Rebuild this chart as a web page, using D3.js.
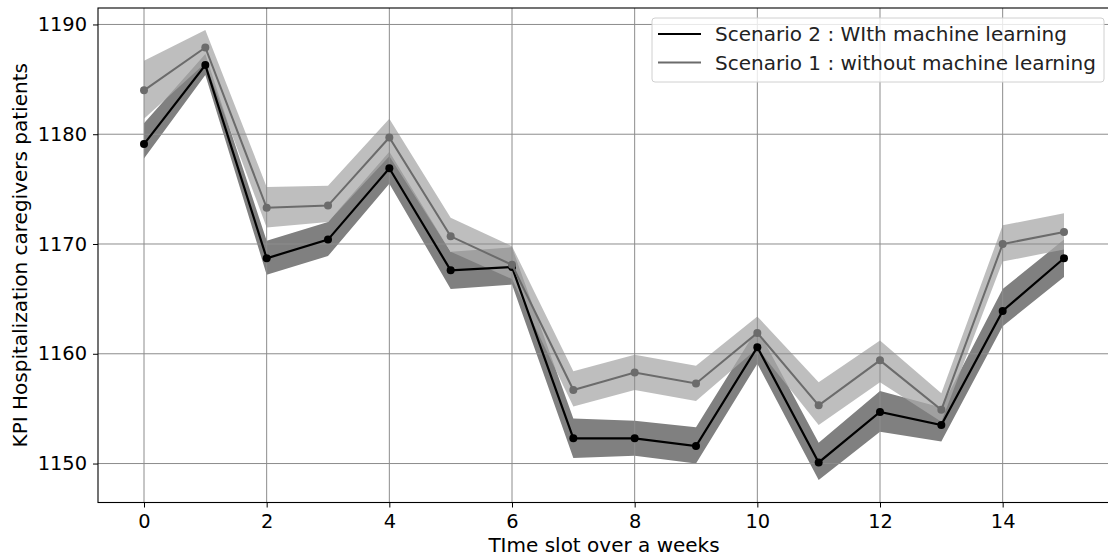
<!DOCTYPE html>
<html>
<head>
<meta charset="utf-8">
<script src="https://cdn.jsdelivr.net/npm/d3@7"></script>
<style>
  html, body { margin: 0; padding: 0; background: #fff; }
  svg { display: block; font-family: 'DejaVu Sans', sans-serif; }
  .axis path, .axis line { stroke: #000; }
  .axis text { fill: #000; font-size: 19.4px; font-family: 'DejaVu Sans', sans-serif; }
</style>
</head>
<body>
<div id="chart"></div>
<script>
const slots = [0, 1, 2, 3, 4, 5, 6, 7, 8, 9, 10, 11, 12, 13, 14, 15];

// scenario 2 : with machine learning
const withMean  = [1179.1, 1186.3, 1168.7, 1170.4, 1176.9, 1167.6, 1167.9, 1152.3, 1152.3, 1151.6, 1160.6, 1150.1, 1154.7, 1153.5, 1163.9, 1168.7];
const withLow   = [1177.8, 1185.4, 1167.2, 1168.9, 1175.5, 1165.9, 1166.3, 1150.5, 1150.7, 1150.0, 1159.1, 1148.5, 1152.9, 1152.0, 1162.5, 1167.0];
const withHigh  = [1181.0, 1187.3, 1170.3, 1172.0, 1178.4, 1169.3, 1169.7, 1154.1, 1153.9, 1153.3, 1162.3, 1151.9, 1156.6, 1155.1, 1165.9, 1170.4];

// scenario 1 : without machine learning
const withoutMean = [1184.0, 1187.9, 1173.3, 1173.5, 1179.7, 1170.7, 1168.1, 1156.7, 1158.3, 1157.3, 1161.9, 1155.3, 1159.4, 1154.9, 1170.0, 1171.1];
const withoutLow  = [1181.4, 1186.5, 1171.5, 1172.0, 1178.0, 1169.3, 1166.8, 1155.2, 1156.7, 1155.7, 1160.5, 1153.5, 1157.4, 1153.8, 1168.4, 1169.5];
const withoutHigh = [1186.7, 1189.5, 1175.2, 1175.3, 1181.4, 1172.4, 1169.8, 1158.4, 1159.9, 1158.9, 1163.4, 1157.4, 1161.2, 1156.4, 1171.7, 1172.8];

const xTicks = [0, 2, 4, 6, 8, 10, 12, 14];
const yTicks = [1150, 1160, 1170, 1180, 1190];
const legendLabels = ['Scenario 2 : WIth machine learning', 'Scenario 1 : without machine learning'];

const translation = function(x, y) {
  return 'translate(' + x + ',' + y + ')';
};

const margin = { top: 8, right: -2, bottom: 53.5, left: 98 };
const W = 1108, H = 556;
const width = W - margin.left - margin.right;
const height = H - margin.top - margin.bottom;

const svg = d3.select('#chart').append('svg')
  .attr('width', W)
  .attr('height', H);

const xScale = d3.scaleLinear()
  .domain([-0.75, 15.75])
  .range([0, width]);

const yScale = d3.scaleLinear()
  .domain([1146.45, 1191.5])
  .range([height, 0]);

const g = svg.append('g')
  .attr('transform', translation(margin.left, margin.top));

const rows = slots.map(function(s, i) {
  return {
    x: s,
    m2: withMean[i], lo2: withLow[i], hi2: withHigh[i],
    m1: withoutMean[i], lo1: withoutLow[i], hi1: withoutHigh[i]
  };
});

// BANDS
const band = function(lo, hi) {
  return d3.area()
    .x(function(d) { return xScale(d.x); })
    .y0(function(d) { return yScale(d[lo]); })
    .y1(function(d) { return yScale(d[hi]); });
};

g.append('path')
  .datum(rows)
  .attr('d', band('lo2', 'hi2'))
  .attr('fill', '#808080');

g.append('path')
  .datum(rows)
  .attr('d', band('lo1', 'hi1'))
  .attr('fill', '#aaaaaa')
  .attr('fill-opacity', 0.76);

// GRID
g.append('g')
  .selectAll('line.vgrid')
  .data(xTicks)
  .enter().append('line')
  .attr('x1', function(d) { return xScale(d); })
  .attr('x2', function(d) { return xScale(d); })
  .attr('y1', 0)
  .attr('y2', height)
  .attr('stroke', '#8c8c8c')
  .attr('stroke-width', 1);

g.append('g')
  .selectAll('line.hgrid')
  .data(yTicks)
  .enter().append('line')
  .attr('x1', 0)
  .attr('x2', width)
  .attr('y1', function(d) { return yScale(d); })
  .attr('y2', function(d) { return yScale(d); })
  .attr('stroke', '#8c8c8c')
  .attr('stroke-width', 1);

// LINES
const series = [
  { key: 'm2', color: '#000000', width: 2.2 },
  { key: 'm1', color: '#6b6b6b', width: 2 }
];

series.forEach(function(s) {
  const line = d3.line()
    .x(function(d) { return xScale(d.x); })
    .y(function(d) { return yScale(d[s.key]); });

  g.append('path')
    .datum(rows)
    .attr('d', line)
    .attr('fill', 'none')
    .attr('stroke', s.color)
    .attr('stroke-width', s.width);

  g.append('g')
    .selectAll('circle')
    .data(rows)
    .enter().append('circle')
    .attr('cx', function(d) { return xScale(d.x); })
    .attr('cy', function(d) { return yScale(d[s.key]); })
    .attr('r', 4)
    .attr('fill', s.color);
});

// AXES
const xAxis = d3.axisBottom(xScale)
  .tickValues(xTicks)
  .tickSize(5)
  .tickPadding(7)
  .tickFormat(d3.format('d'));

const yAxis = d3.axisLeft(yScale)
  .tickValues(yTicks)
  .tickSize(5)
  .tickPadding(6)
  .tickFormat(d3.format('d'));

g.append('g')
  .attr('class', 'axis x')
  .attr('transform', translation(0, height))
  .call(xAxis)
  .select('.domain').remove();

g.append('g')
  .attr('class', 'axis y')
  .call(yAxis)
  .select('.domain').remove();

// spines
g.append('rect')
  .attr('x', 0)
  .attr('y', 0)
  .attr('width', width)
  .attr('height', height)
  .attr('fill', 'none')
  .attr('stroke', '#000')
  .attr('stroke-width', 1.1);

// LABELS
svg.append('text')
  .attr('x', margin.left + xScale(7.5))
  .attr('y', 552)
  .attr('text-anchor', 'middle')
  .style('font-size', '20px')
  .text('TIme slot over a weeks');

svg.append('text')
  .attr('transform', translation(27, margin.top + height / 2) + 'rotate(-90)')
  .attr('text-anchor', 'middle')
  .style('font-size', '20px')
  .text('KPI Hospitalization caregivers patients');

// LEGEND
const legend = svg.append('g')
  .attr('transform', translation(652, 18));

legend.append('rect')
  .attr('width', 452)
  .attr('height', 64)
  .attr('rx', 3)
  .attr('fill', '#fff')
  .attr('fill-opacity', 0.8)
  .attr('stroke', '#d0d0d0');

const legendRow = legend.selectAll('g.row')
  .data(legendLabels)
  .enter().append('g')
  .attr('class', 'row')
  .attr('transform', function(d, i) { return translation(0, 16 + i * 28.5); });

legendRow.append('line')
  .attr('x1', 6)
  .attr('x2', 49)
  .attr('stroke', function(d, i) { return series[i].color; })
  .attr('stroke-width', 2.2);

legendRow.append('text')
  .attr('x', 63)
  .attr('dy', '0.35em')
  .style('font-size', '20px')
  .attr('fill', '#222')
  .text(function(d) { return d; });
</script>
</body>
</html>
